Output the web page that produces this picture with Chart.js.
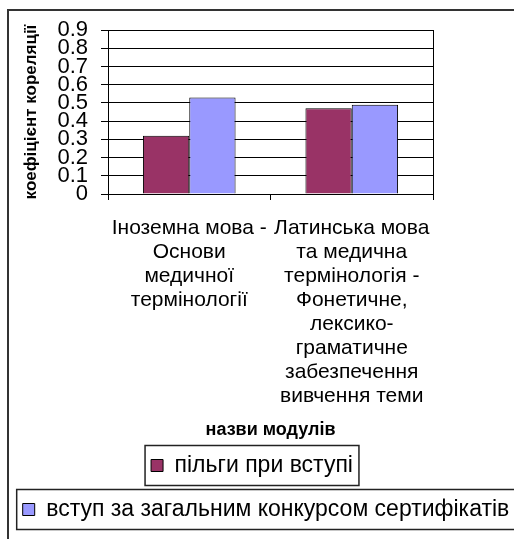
<!DOCTYPE html>
<html>
<head>
<meta charset="utf-8">
<script src="https://cdn.jsdelivr.net/npm/chart.js@4"></script>
<style>
  body { margin: 0; background: #fff; }
  canvas { display: block; }
</style>
</head>
<body>
<canvas id="mycanvas" width="514" height="539"></canvas>
<script>
// categories (multi-line labels as in the original)
var modules = [
    ["Іноземна мова -", "Основи", "медичної", "термінології"],
    ["Латинська мова", "та медична", "термінологія -", "Фонетичне,", "лексико-", "граматичне", "забезпечення", "вивчення теми"]
];
var seriesNames = ["пільги при вступі", "вступ за загальним конкурсом сертифікатів"];
var pilgy = [0.32, 0.47];
var vstup = [0.53, 0.49];
var yMin = 0, yMax = 0.9, yStep = 0.1;

var FONT = "'Liberation Sans', Arial, sans-serif";
// how far each legend row is pulled left (px)
var legendShift = [14, 0];

// frame around the whole chart + boxes round each legend entry
var framePlugin = {
    id: 'frame',
    beforeDraw: function(chart) {
        var legend = chart.legend;
        if (legend && legend.lineWidths && !legend.lineWidths._moved) {
            legend.lineWidths.forEach(function(w, i) {
                legend.lineWidths[i] = w + 2 * (legendShift[i] || 0);
            });
            legend.lineWidths._moved = true;
        }
        var ctx = chart.ctx;
        ctx.save();
        ctx.fillStyle = '#fff';
        ctx.fillRect(0, 0, chart.width, chart.height);
        ctx.strokeStyle = '#333';
        ctx.lineWidth = 2;
        ctx.beginPath();
        ctx.moveTo(8, chart.height);
        ctx.lineTo(8, 10);
        ctx.lineTo(chart.width, 10);
        ctx.stroke();
        ctx.restore();
    },
    afterDraw: function(chart) {
        var legend = chart.legend;
        if (!legend || !legend.legendHitBoxes) return;
        var ctx = chart.ctx;
        ctx.save();
        ctx.strokeStyle = '#222';
        ctx.lineWidth = 1.5;
        legend.legendHitBoxes.forEach(function(hb) {
            var left = hb.left - (legendShift[hb.row] || 0);
            ctx.strokeRect(left - 6, hb.top - 8.5, hb.width + 12, hb.height + 17);
        });
        ctx.restore();
    }
};

var chartdata = {
    labels: modules,
    datasets: [
        {
            label: seriesNames[0],
            backgroundColor: '#993366',
            borderColor: '#000',
            borderWidth: 1,
            categoryPercentage: 0.57,
            barPercentage: 1,
            data: pilgy
        },
        {
            label: seriesNames[1],
            backgroundColor: '#9999FF',
            borderColor: '#000',
            borderWidth: 1,
            categoryPercentage: 0.57,
            barPercentage: 1,
            data: vstup
        }
    ]
};

var ctx = document.getElementById('mycanvas');

var barGraph = new Chart(ctx, {
    type: 'bar',
    data: chartdata,
    plugins: [framePlugin],
    options: {
        responsive: false,
        animation: false,
        layout: { padding: { left: 18, right: 0, top: 30, bottom: 8 } },
        plugins: {
            tooltip: { enabled: false },
            legend: {
                position: 'bottom',
                labels: {
                    boxWidth: 12,
                    boxHeight: 12,
                    padding: 21,
                    color: '#000',
                    font: { family: FONT, size: 23 }
                }
            }
        },
        scales: {
            x: {
                grid: { display: true, drawOnChartArea: false, drawTicks: true, tickLength: 6, color: '#000' },
                border: { display: true, color: '#000', width: 1 },
                ticks: {
                    color: '#000',
                    padding: 16,
                    maxRotation: 0,
                    autoSkip: false,
                    font: { family: FONT, size: 21, lineHeight: 1.143 }
                },
                title: {
                    display: true,
                    text: 'назви модулів',
                    color: '#000',
                    padding: { top: 0, bottom: -8 },
                    font: { family: FONT, size: 18, weight: 'bold' }
                },
                afterFit: function(scale) { scale.height = 239; }
            },
            y: {
                min: yMin,
                max: yMax,
                grid: { color: '#000', lineWidth: 1, tickLength: 7 },
                border: { display: true, color: '#000', width: 1 },
                ticks: {
                    stepSize: yStep,
                    autoSkip: false,
                    padding: 13,
                    color: '#000',
                    font: { family: FONT, size: 22, lineHeight: 1 },
                    callback: function(v) { return v === 0 ? '0' : v.toFixed(1); }
                },
                title: {
                    display: true,
                    text: 'коефіцієнт кореляції',
                    color: '#000',
                    padding: { top: 3, bottom: 4 },
                    font: { family: FONT, size: 17, weight: 'bold' }
                },
                afterFit: function(scale) { scale.width = 90; }
            },
            y2: {
                position: 'right',
                min: 0,
                max: 1,
                grid: { display: false },
                ticks: { display: false },
                border: { display: true, color: '#000', width: 1 },
                afterFit: function(scale) { scale.width = 81; }
            }
        }
    }
});
</script>
</body>
</html>
